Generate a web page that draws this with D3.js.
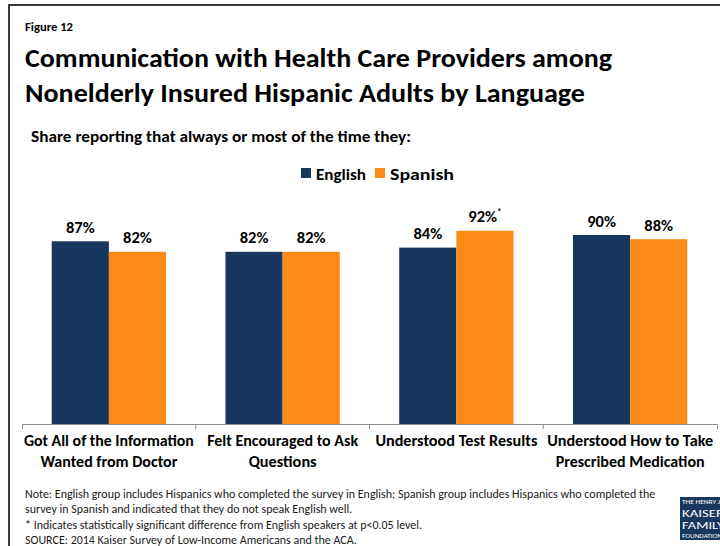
<!DOCTYPE html>
<html>
<head>
<meta charset="utf-8">
<script src="https://cdn.jsdelivr.net/npm/d3@7"></script>
<style>
  html, body { margin: 0; padding: 0; background: #fff; }
  svg { display: block; }
  text { font-family: Carlito, Calibri, "Open Sans", sans-serif; fill: #000; }
</style>
</head>
<body>
<script>
// Survey results: share reporting "always or most of the time"
const categories = [
  ["Got All of the Information", "Wanted from Doctor"],
  ["Felt Encouraged to Ask", "Questions"],
  ["Understood Test Results"],
  ["Understood How to Take", "Prescribed Medication"]
];
const series = ["English", "Spanish"];
const english = [87, 82, 84, 90];
const spanish = [82, 82, 92, 88];
const spanishSignificant = [false, false, true, false];
const colors = { English: "#17375E", Spanish: "#FD8A16" };

const noteLines = [
  "Note: English group includes Hispanics who completed the survey in English; Spanish group includes Hispanics who completed the",
  "survey in Spanish and indicated that they do not speak English well.",
  "* Indicates statistically significant difference from English speakers at p<0.05 level.",
  "SOURCE: 2014 Kaiser Survey of Low-Income Americans and the ACA."
];

const W = 720, H = 546;
const svg = d3.select("body").append("svg").attr("width", W).attr("height", H);

// Squeeze a text element to a given width
function fit(sel, width) {
  sel.attr("textLength", width).attr("lengthAdjust", "spacingAndGlyphs");
  return sel;
}

// Frame
svg.append("path")
  .attr("d", `M9,${H} L9,5 L${W},5`)
  .attr("fill", "none").attr("stroke", "#3a3a3a").attr("stroke-width", 2);

// Headings
fit(svg.append("text").attr("x", 25).attr("y", 31)
  .attr("font-size", 11.5).attr("font-weight", "bold").text("Figure 12"), 48);
fit(svg.append("text").attr("x", 25).attr("y", 67)
  .attr("font-size", 26).attr("font-weight", "bold")
  .text("Communication with Health Care Providers among"), 587);
fit(svg.append("text").attr("x", 25).attr("y", 102)
  .attr("font-size", 26).attr("font-weight", "bold")
  .text("Nonelderly Insured Hispanic Adults by Language"), 560);
fit(svg.append("text").attr("x", 31).attr("y", 142)
  .attr("font-size", 15.5).attr("font-weight", "bold")
  .text("Share reporting that always or most of the time they:"), 380);

// Legend
const legend = [
  { key: "English", sx: 301, tx: 316, tw: 50 },
  { key: "Spanish", sx: 375, tx: 390, tw: 64 }
];
legend.forEach(l => {
  svg.append("rect").attr("x", l.sx).attr("y", 168).attr("width", 10).attr("height", 10)
    .attr("fill", colors[l.key]);
  fit(svg.append("text").attr("x", l.tx).attr("y", 179.5)
    .attr("font-size", 15.5).attr("font-weight", "bold").text(l.key), l.tw);
});

// Scales
const x0 = d3.scaleBand().domain(d3.range(categories.length)).range([22, 717]);
const x1 = d3.scaleBand().domain(series).range([0, x0.bandwidth()]).paddingOuter(0.52);
const y = d3.scaleLinear().domain([0, 100]).range([424, 214]);

const rows = categories.map((c, i) => ({
  i,
  values: [
    { key: "English", v: english[i], sig: false },
    { key: "Spanish", v: spanish[i], sig: spanishSignificant[i] }
  ]
}));

const groups = svg.selectAll("g.grp").data(rows).join("g")
  .attr("class", "grp")
  .attr("transform", d => `translate(${x0(d.i)},0)`);

groups.selectAll("rect").data(d => d.values).join("rect")
  .attr("x", d => x1(d.key))
  .attr("y", d => y(d.v))
  .attr("width", x1.bandwidth())
  .attr("height", d => y(0) - y(d.v))
  .attr("fill", d => colors[d.key]);

const labels = groups.selectAll("text.val").data(d => d.values).join("text")
  .attr("class", "val")
  .attr("x", d => x1(d.key) + x1.bandwidth() / 2)
  .attr("y", d => y(d.v) - 8.5)
  .attr("text-anchor", "middle")
  .attr("font-size", 16.5).attr("font-weight", "bold")
  .text(d => d.v + "%");
labels.filter(d => d.sig).append("tspan")
  .attr("font-size", 9).attr("dy", -7).text("*");

// Category axis: line with boundary ticks
const axisG = svg.append("g").attr("transform", `translate(0,${y(0)})`);
axisG.call(d3.axisBottom(x0).tickSize(0).tickSizeOuter(5).tickFormat(""));
axisG.select(".domain").attr("stroke", "#8c8c8c");
axisG.selectAll(".tick").remove();
axisG.selectAll("line.bound").data(d3.range(1, categories.length)).join("line")
  .attr("class", "bound")
  .attr("x1", i => x0(i)).attr("x2", i => x0(i))
  .attr("y1", 0).attr("y2", 5)
  .attr("stroke", "#8c8c8c");

// Category labels
const catWidths = [[170, 137], [151, 68], [162], [166, 149]];
categories.forEach((lines, i) => {
  const cx = x0(i) + x0.bandwidth() / 2;
  lines.forEach((ln, j) => {
    fit(svg.append("text").attr("x", cx).attr("y", 446 + j * 20.5)
      .attr("text-anchor", "middle")
      .attr("font-size", 15.5).attr("font-weight", "bold").text(ln), catWidths[i][j]);
  });
});

// Notes: one shared size, chosen so the first line spans the note width
const notes = svg.append("g").attr("class", "notes");
const noteText = notes.selectAll("text").data(noteLines).join("text")
  .attr("x", 25).attr("y", (d, i) => 497.5 + i * 15.5)
  .attr("font-size", 11).style("fill", "#1a1a1a").text(d => d);
const firstLen = noteText.node().getComputedTextLength();
const noteSize = Math.min(12, 11 * 631 / firstLen);
noteText.attr("font-size", noteSize);

// Foundation logo block
const logo = svg.append("g").attr("transform", "translate(680,497)");
logo.append("rect").attr("width", 45).attr("height", 43).attr("fill", "#17375E");
const serif = "'Liberation Serif', 'DejaVu Serif', serif";
[
  { t: "THE HENRY J.", y: 6.5, s: 5, w: 40 },
  { t: "KAISER", y: 19.5, s: 11, w: 42 },
  { t: "FAMILY", y: 32, s: 11, w: 42 },
  { t: "FOUNDATION", y: 40.5, s: 5, w: 40 }
].forEach(d => {
  fit(logo.append("text").attr("x", 2).attr("y", d.y).attr("font-size", d.s)
    .attr("font-family", serif).style("fill", "#fff").text(d.t), d.w);
});
</script>
</body>
</html>
